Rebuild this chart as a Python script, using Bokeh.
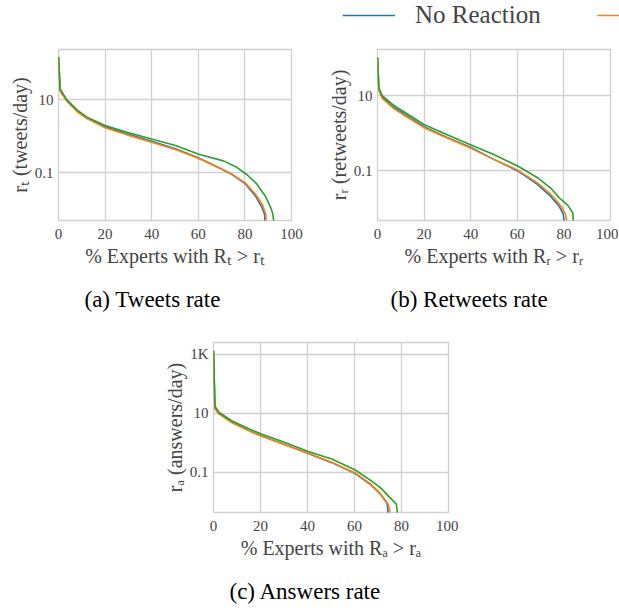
from bokeh.plotting import figure
from bokeh.models import Range1d, FixedTicker, Legend, LegendItem, Spacer
from bokeh.layouts import row, column
from bokeh.core.properties import value
from bokeh.embed import file_html
from bokeh.resources import INLINE

BLUE, ORANGE, GREEN = "#1f77b4", "#ff7f0e", "#2ca02c"
SERIF = "Liberation Serif"
TXT = "#444444"
GRID = "#d0d0d0"

x_ticks = [0, 20, 40, 60, 80, 100]
legend_labels = ["No Reaction", " "]
legend_colors = [BLUE, ORANGE]

# (a) tweets rate: % experts with R_t > r_t  vs  r_t
pct_tw_blue = [0, 0.7, 3.6, 7.9, 12.2, 20, 29.4, 40, 50.2, 60.2, 68, 74.5, 80.2, 84.5, 87.4, 88.4, 88.6, 88.6]
rate_tw_blue = [145, 17.6, 9.4, 5.0, 3.2, 1.8, 1.15, 0.72, 0.45, 0.25, 0.145, 0.089, 0.049, 0.023, 0.011, 0.0074, 0.005, 0.001]
pct_tw_orange = [0, 0.7, 3.6, 7.9, 12.2, 20, 29.4, 40, 50.2, 60.2, 68, 74.5, 80.2, 84.5, 87.6, 88.9, 89.1, 89.1]
rate_tw_orange = [145, 17, 9.0, 4.7, 3.0, 1.7, 1.08, 0.68, 0.43, 0.245, 0.145, 0.09, 0.052, 0.026, 0.013, 0.0075, 0.005, 0.001]
pct_tw_green = [0, 0.7, 3.6, 7.9, 12.2, 20, 29.4, 40, 50.2, 60.2, 70.8, 76.5, 80.8, 85.1, 88.7, 91.1, 92.0, 92.3, 92.3]
rate_tw_green = [145, 19.5, 9.8, 5.2, 3.3, 1.94, 1.27, 0.83, 0.55, 0.32, 0.21, 0.14, 0.089, 0.049, 0.023, 0.011, 0.0074, 0.005, 0.001]

# (b) retweets rate
pct_rt_blue = [0, 0.6, 2, 7, 12.7, 19.9, 29.9, 39.9, 49.9, 60, 68.5, 74.2, 77.8, 79.7, 80.0, 80.0]
rate_rt_blue = [105, 15, 9.1, 4.9, 2.9, 1.49, 0.77, 0.42, 0.20, 0.1, 0.044, 0.021, 0.0117, 0.0071, 0.005, 0.001]
pct_rt_orange = [0, 0.6, 2, 7, 12.7, 19.9, 29.9, 39.9, 49.9, 60, 68.5, 74.2, 78.5, 80.6, 81.1, 81.1]
rate_rt_orange = [105, 14, 8.5, 4.5, 2.7, 1.4, 0.74, 0.4, 0.2, 0.105, 0.048, 0.024, 0.012, 0.0072, 0.005, 0.001]
pct_rt_green = [0, 0.6, 2, 7, 12.7, 19.9, 29.9, 39.9, 49.9, 60, 68.5, 74.2, 78, 81.8, 83.8, 84.0, 84.0]
rate_rt_green = [105, 16, 10, 5.5, 3.3, 1.7, 0.91, 0.49, 0.27, 0.135, 0.066, 0.035, 0.019, 0.0117, 0.0075, 0.005, 0.001]

# (c) answers rate
pct_an_blue = [0, 0.6, 2.4, 8.1, 15.3, 20.3, 29.6, 40.3, 50.3, 60.3, 66.7, 71, 73.9, 74.2, 74.2]
rate_an_blue = [1300, 15, 9.7, 4.8, 2.5, 1.7, 0.89, 0.43, 0.21, 0.09, 0.039, 0.018, 0.0087, 0.005, 0.001]
pct_an_orange = [0, 0.6, 2.4, 8.1, 15.3, 20.3, 29.6, 40.3, 50.3, 60.3, 66.7, 71, 74.2, 75.0, 75.0]
rate_an_orange = [1300, 14, 9.2, 4.6, 2.45, 1.68, 0.9, 0.44, 0.215, 0.093, 0.041, 0.019, 0.0085, 0.005, 0.001]
pct_an_green = [0, 0.6, 2.4, 8.1, 15.3, 20.3, 29.6, 40.3, 50.3, 60.3, 66.7, 71, 75, 77.8, 78.2, 78.2]
rate_an_green = [1300, 17, 10.5, 5.3, 2.9, 1.95, 1.07, 0.5, 0.28, 0.118, 0.054, 0.030, 0.014, 0.0083, 0.005, 0.001]


def make_fig(width, height, borders, yr, yticks, ylabels, xlabel, ylabel, caption, cap_offset, series):
    left, right, top, bottom = borders
    p = figure(width=width, height=height, y_axis_type="log",
               x_range=Range1d(0, 100), y_range=Range1d(*yr),
               output_backend="svg", toolbar_location=None,
               min_border_left=left, min_border_right=right,
               min_border_top=top, min_border_bottom=bottom,
               title=caption, title_location="below")
    p.background_fill_color = "white"
    p.border_fill_color = "white"
    p.outline_line_color = GRID
    p.outline_line_width = 1.3
    p.xaxis.ticker = FixedTicker(ticks=x_ticks)
    p.yaxis.ticker = FixedTicker(ticks=yticks)
    p.yaxis.major_label_overrides = {t: l for t, l in zip(yticks, ylabels)}
    for ax in (p.xaxis[0], p.yaxis[0]):
        ax.axis_line_color = None
        ax.major_tick_line_color = None
        ax.minor_tick_line_color = None
        ax.major_tick_out = 0
        ax.major_tick_in = 0
        ax.major_label_text_font = SERIF
        ax.major_label_text_font_size = "15px"
        ax.major_label_text_color = TXT
        ax.axis_label_text_font = SERIF
        ax.axis_label_text_font_size = "20px"
        ax.axis_label_text_font_style = "normal"
        ax.axis_label_text_color = TXT
    p.xaxis.major_label_standoff = 8
    p.xaxis.axis_label_standoff = 3
    p.yaxis.major_label_standoff = 5
    p.yaxis.axis_label_standoff = 1
    p.xaxis.axis_label = xlabel
    p.yaxis.axis_label = ylabel
    p.grid.grid_line_color = GRID
    p.grid.grid_line_width = 1.3
    p.title.text_font = SERIF
    p.title.text_font_size = "23px"
    p.title.text_font_style = "normal"
    p.title.text_color = "black"
    p.title.align = "left"
    p.title.vertical_align = "top"
    p.title.offset = cap_offset
    p.title.standoff = 0
    p.title.padding = dict(top=17, bottom=0, left=0, right=0)
    for xs, ys, c in series:
        p.line(xs, ys, line_color=c, line_width=1.6)
    return p


# legend strip across the top (clipped at the right edge, as in the reference);
# the proxy lines lie outside this strip's ranges, only their legend glyphs show
leg = figure(width=619, height=34, output_backend="svg", toolbar_location=None,
             x_axis_type=None, y_axis_type=None,
             x_range=Range1d(-20, -10), y_range=Range1d(-20, -10),
             min_border_left=0, min_border_right=0, min_border_top=0, min_border_bottom=0)
leg.outline_line_color = None
leg.grid.visible = False
items = []
for lab, col, xs, ys in zip(legend_labels, legend_colors,
                            [pct_rt_blue, pct_rt_orange], [rate_rt_blue, rate_rt_orange]):
    r = leg.line(xs, ys, line_color=col, line_width=1.6)
    items.append(LegendItem(label=value(lab), renderers=[r]))
legend = Legend(items=items, orientation="horizontal", location=(342, 5))
legend.padding = 0
legend.margin = 0
legend.spacing = 56
legend.label_standoff = 20
legend.glyph_width = 53
legend.glyph_height = 20
legend.label_text_font = SERIF
legend.label_text_font_size = "25px"
legend.label_text_color = TXT
legend.border_line_color = None
legend.background_fill_alpha = 0
leg.add_layout(legend, "center")

fa = make_fig(310, 282, (58, 19, 15, 96), (0.0049, 234), [0.1, 10], ["0.1", "10"],
              "% Experts with Rₜ > rₜ", "rₜ (tweets/day)", "(a) Tweets rate", 26,
              [(pct_tw_blue, rate_tw_blue, BLUE), (pct_tw_orange, rate_tw_orange, ORANGE),
               (pct_tw_green, rate_tw_green, GREEN)])

fb = make_fig(308, 282, (67, 8, 15, 96), (0.0047, 170), [0.1, 10], ["0.1", "10"],
              "% Experts with Rᵣ > rᵣ", "rᵣ (retweets/day)", "(b) Retweets rate", 13,
              [(pct_rt_blue, rate_rt_blue, BLUE), (pct_rt_orange, rate_rt_orange, ORANGE),
               (pct_rt_green, rate_rt_green, GREEN)])

fc = make_fig(303, 292, (58, 10, 26, 96), (0.0043, 2460), [0.1, 10, 1000], ["0.1", "10", "1K"],
              "% Experts with Rₐ > rₐ", "rₐ (answers/day)", "(c) Answers rate", 16,
              [(pct_an_blue, rate_an_blue, BLUE), (pct_an_orange, rate_an_orange, ORANGE),
               (pct_an_green, rate_an_green, GREEN)])

layout = column(leg, row(fa, fb), row(Spacer(width=155, height=292), fc))

open("out.html", "w").write(file_html(layout, INLINE))
